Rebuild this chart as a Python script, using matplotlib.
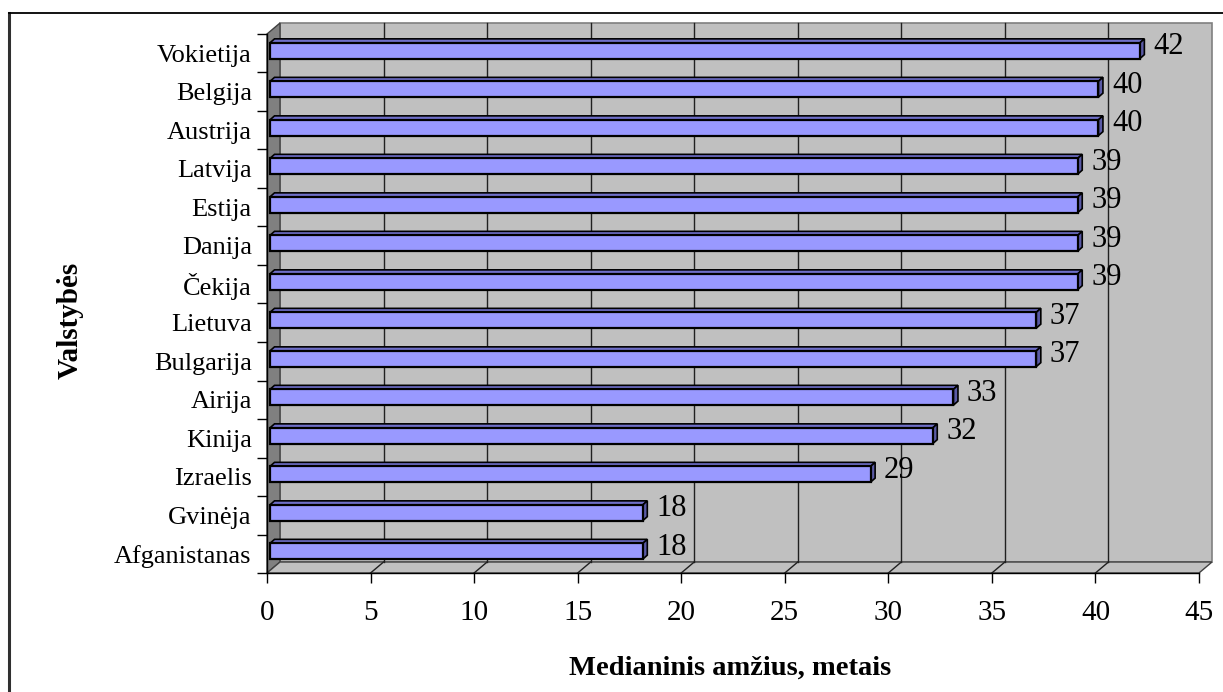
import matplotlib
matplotlib.use("Agg")
import matplotlib.pyplot as plt
from matplotlib.patches import Polygon, Rectangle
from matplotlib.transforms import IdentityTransform, Affine2D
from matplotlib.ticker import FixedLocator
import numpy as np

# ---- data (bottom to top) ----
countries = ["Afganistanas", "Gvinėja", "Izraelis", "Kinija", "Airija", "Bulgarija",
             "Lietuva", "Čekija", "Danija", "Estija", "Latvija", "Austrija",
             "Belgija", "Vokietija"]
median_age = [18, 18, 29, 32, 33, 37, 37, 39, 39, 39, 39, 40, 40, 42]
x_ticks = [0, 5, 10, 15, 20, 25, 30, 35, 40, 45]
x_title = "Medianinis amžius, metais"
y_title = "Valstybės"

W, H = 1223, 692
plt.rcParams['font.family'] = ['Liberation Serif', 'DejaVu Serif']

fig = plt.figure(figsize=(W / 100, H / 100), dpi=100)
fig.patch.set_facecolor('white')

# front plane in pixels
x0, x1 = 267, 1199
ytop, ybot = 34, 573
ax = fig.add_axes([x0 / W, (H - ybot) / H, (x1 - x0) / W, (ybot - ytop) / H])
ax.set_facecolor('none')
ax.set_zorder(5)
n = len(countries)
ax.set_xlim(0, 45)
ax.set_ylim(-0.5, n - 0.5)
for s in ['top', 'right']:
    ax.spines[s].set_visible(False)
for s in ['left', 'bottom']:
    ax.spines[s].set_color('black')
    ax.spines[s].set_linewidth(1.0)

# ticks
ax.set_xticks(x_ticks)
ax.set_xticklabels([str(t) for t in x_ticks], fontsize=21)
ax.tick_params(axis='x', direction='out', length=7.5, width=1, pad=12, colors='black')
ax.set_yticks(np.arange(n))
ax.set_yticklabels(countries, fontsize=19)
ax.tick_params(axis='y', which='major', length=0, pad=11)
ax.yaxis.set_minor_locator(FixedLocator(np.arange(n + 1) - 0.5))
ax.tick_params(axis='y', which='minor', direction='out', length=7.5, width=1, colors='black')

fig.canvas.draw()

def px(x, y):
    return np.asarray(ax.transData.transform((x, y)), dtype=float)

DX, DY = 13, 11   # wall depth in pixels
idt = IdentityTransform()

# back wall
bl = px(0, -0.5) + (DX, DY)
tr = px(45, n - 0.5) + (DX, DY)
fig.add_artist(Rectangle(bl, tr[0] - bl[0], tr[1] - bl[1], transform=idt,
                         facecolor='#c0c0c0', edgecolor='#808080', lw=1.2, zorder=1))
# left wall
p0, p1 = px(0, -0.5), px(0, n - 0.5)
fig.add_artist(Polygon([p0, p1, p1 + (DX, DY), p0 + (DX, DY)], closed=True, transform=idt,
                       facecolor='#808080', edgecolor='#404040', lw=1.0, zorder=1.5))
# floor
q0, q1 = px(0, -0.5), px(45, -0.5)
fig.add_artist(Polygon([q0, q1, q1 + (DX, DY), q0 + (DX, DY)], closed=True, transform=idt,
                       facecolor='#c0c0c0', edgecolor='#404040', lw=1.0, zorder=1.5))
# gridlines
for t in x_ticks[1:-1]:
    b = px(t, -0.5)
    top = px(t, n - 0.5)
    fig.add_artist(plt.Line2D([b[0] + DX, top[0] + DX], [b[1] + DY, top[1] + DY],
                              transform=idt, color='#202020', lw=1.0, zorder=2))
    fig.add_artist(plt.Line2D([b[0], b[0] + DX], [b[1], b[1] + DY],
                              transform=idt, color='#202020', lw=1.0, zorder=2))

# bars
h = 0.41
BX, BY = 3, 2.5   # front face offset
dx, dy = 4.5, 4   # bar depth
front_c, top_c, side_c = '#9999ff', '#6f6fc8', '#5a5aa6'
for i, v in enumerate(median_age):
    a = px(0, i + h / 2) + (BX, BY)
    b = px(v, i + h / 2) + (BX, BY)
    c = px(v, i - h / 2) + (BX, BY)
    fig.add_artist(Polygon([a, b, b + (dx, dy), a + (dx, dy)], closed=True, transform=idt,
                           facecolor=top_c, edgecolor='black', lw=1.2, zorder=3.5))
    fig.add_artist(Polygon([c, b, b + (dx, dy), c + (dx, dy)], closed=True, transform=idt,
                           facecolor=side_c, edgecolor='black', lw=1.2, zorder=3.6))
    lp = px(v, i) + (BX + dx + 9, BY + 4)
    fig.text(lp[0] / W, lp[1] / H, str(v), fontsize=22, ha='left', va='center', zorder=7)
bars = ax.barh(np.arange(n), median_age, height=h, color=front_c, edgecolor='black',
               lw=1.6, zorder=4)
for r in bars.patches:
    r.set_transform(ax.transData + Affine2D().translate(BX, BY))
    r.set_clip_on(False)

# axis titles
fig.text(730 / W, 1 - 668 / H, x_title, fontsize=20.5, fontweight='bold', ha='center', va='center')
fig.text(70 / W, 1 - 320 / H, y_title, fontsize=21, fontweight='bold', ha='center', va='center',
         rotation=90)

# outer frame
fig.add_artist(plt.Line2D([9, 9], [-5, H - 12.5], transform=idt, color='#303030', lw=2.2, zorder=10))
fig.add_artist(plt.Line2D([9, W + 5], [H - 12.5, H - 12.5], transform=idt, color='black', lw=1.3, zorder=10))

fig.savefig('out.png', dpi=100)
